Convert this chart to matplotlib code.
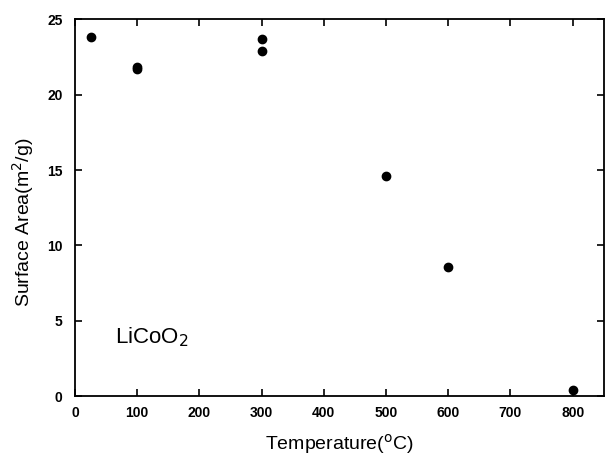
import matplotlib
matplotlib.use("Agg")
import matplotlib.pyplot as plt

temperature = [25, 100, 100, 300, 300, 500, 600, 800]
surface_area = [23.8, 21.7, 21.8, 23.7, 22.9, 14.6, 8.6, 0.4]
xticks = [0, 100, 200, 300, 400, 500, 600, 700, 800]
yticks = [0, 5, 10, 15, 20, 25]

plt.rcParams['font.family'] = ['Liberation Sans', 'DejaVu Sans']

fig = plt.figure(figsize=(6.05, 4.58), dpi=100)
ax = fig.add_axes([0.124, 0.135, 0.874, 0.823])
ax.plot(temperature, surface_area, 'o', color='black', markersize=6)
ax.set_xlim(0, 850)
ax.set_ylim(0, 25)
ax.set_xticks(xticks)
ax.set_yticks(yticks)
ax.tick_params(direction='in', top=True, right=True, length=5, width=1.2,
               labelsize=10)
ax.tick_params(axis='y', pad=9)
ax.tick_params(axis='x', pad=7)
for lab in ax.get_xticklabels() + ax.get_yticklabels():
    lab.set_fontweight('bold')
for s in ax.spines.values():
    s.set_linewidth(1.3)
ax.set_xlabel('Temperature($^{\\rm o}$C)', fontsize=14, labelpad=9)
fig.text(23 / 605, 1 - 222 / 458, 'Surface Area(m$^{2}$/g)', fontsize=14,
         rotation=90, ha='center', va='center')
ax.text(64, 3.5, 'LiCoO$_{2}$', fontsize=16)

fig.savefig('out.png', dpi=100)
